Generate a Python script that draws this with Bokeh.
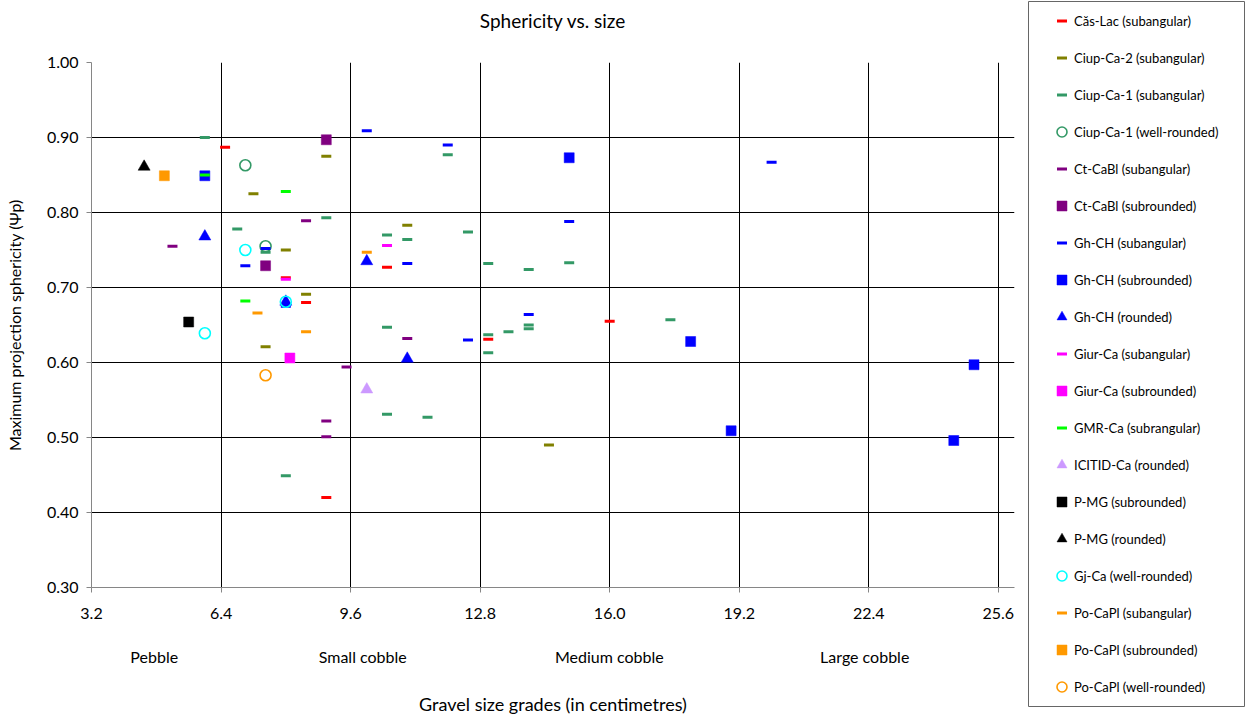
from bokeh.plotting import figure
from bokeh.models import Range1d, FixedTicker, NumeralTickFormatter, LinearAxis, Legend, LegendItem
from bokeh.layouts import row
from bokeh.embed import file_html
from bokeh.resources import INLINE

FONT = "Lato"

# ---------------- data ----------------
chart_title = "Sphericity vs. size"
x_ticks = [3.2, 6.4, 9.6, 12.8, 16.0, 19.2, 22.4, 25.6]
y_ticks = [0.3, 0.4, 0.5, 0.6, 0.7, 0.8, 0.9, 1.0]
grade_positions = [4.75, 9.9, 15.99, 22.3]
grade_labels = ["Pebble", "Small cobble", "Medium cobble", "Large cobble"]

cas_lac_sa_x = [6.5, 8.0, 8.5, 10.5, 13.0, 16.0, 9.0]
cas_lac_sa_y = [0.887, 0.713, 0.680, 0.727, 0.631, 0.655, 0.420]

ciup2_sa_x = [7.2, 9.0, 8.0, 7.5, 8.5, 11.0, 14.5]
ciup2_sa_y = [0.825, 0.875, 0.750, 0.621, 0.691, 0.783, 0.490]

ciup1_sa_x = [6.0, 9.0, 6.8, 7.5, 8.0, 12.0, 10.5, 11.0, 12.5, 13.0, 14.0, 14.0, 14.0,
              10.5, 13.0, 13.0, 13.5, 10.5, 11.5, 15.0, 17.5]
ciup1_sa_y = [0.900, 0.793, 0.778, 0.747, 0.449, 0.877, 0.770, 0.764, 0.774, 0.732, 0.724, 0.645, 0.650,
              0.647, 0.637, 0.613, 0.641, 0.531, 0.527, 0.733, 0.657]

ciup1_wr_x = [7.0, 7.5]
ciup1_wr_y = [0.863, 0.755]

ctcabl_sa_x = [8.5, 5.2, 9.0, 9.0, 11.0, 9.5]
ctcabl_sa_y = [0.789, 0.755, 0.522, 0.501, 0.632, 0.594]

ctcabl_sr_x = [9.0, 7.5]
ctcabl_sr_y = [0.897, 0.729]

ghch_sa_x = [10.0, 12.0, 7.5, 7.0, 11.0, 14.0, 12.5, 15.0, 20.0, 8.0]
ghch_sa_y = [0.909, 0.890, 0.752, 0.729, 0.732, 0.664, 0.630, 0.788, 0.867, 0.675]

ghch_sr_x = [6.0, 15.0, 18.0, 19.0, 25.0, 24.5]
ghch_sr_y = [0.849, 0.873, 0.628, 0.509, 0.597, 0.496]

ghch_r_x = [6.0, 8.0, 10.0, 11.0]
ghch_r_y = [0.768, 0.681, 0.735, 0.605]

giur_sa_x = [8.0, 10.5]
giur_sa_y = [0.711, 0.756]

giur_sr_x = [8.1]
giur_sr_y = [0.606]

gmr_sa_x = [6.0, 8.0, 7.0]
gmr_sa_y = [0.850, 0.828, 0.682]

icitid_r_x = [10.0]
icitid_r_y = [0.564]

pmg_sr_x = [5.6]
pmg_sr_y = [0.654]

pmg_r_x = [4.5]
pmg_r_y = [0.861]

gj_wr_x = [7.0, 8.0, 6.0]
gj_wr_y = [0.750, 0.681, 0.639]

pocapl_sa_x = [7.3, 8.5, 10.0]
pocapl_sa_y = [0.666, 0.641, 0.747]

pocapl_sr_x = [5.0]
pocapl_sr_y = [0.849]

pocapl_wr_x = [7.5]
pocapl_wr_y = [0.583]

series = [
    ("Căs-Lac (subangular)", "dash", "#FF0000", cas_lac_sa_x, cas_lac_sa_y),
    ("Ciup-Ca-2 (subangular)", "dash", "#808000", ciup2_sa_x, ciup2_sa_y),
    ("Ciup-Ca-1 (subangular)", "dash", "#339966", ciup1_sa_x, ciup1_sa_y),
    ("Ciup-Ca-1 (well-rounded)", "circle", "#339966", ciup1_wr_x, ciup1_wr_y),
    ("Ct-CaBl (subangular)", "dash", "#800080", ctcabl_sa_x, ctcabl_sa_y),
    ("Ct-CaBl (subrounded)", "square", "#800080", ctcabl_sr_x, ctcabl_sr_y),
    ("Gh-CH (subangular)", "dash", "#0000FF", ghch_sa_x, ghch_sa_y),
    ("Gh-CH (subrounded)", "square", "#0000FF", ghch_sr_x, ghch_sr_y),
    ("Gh-CH (rounded)", "triangle", "#0000FF", ghch_r_x, ghch_r_y),
    ("Giur-Ca (subangular)", "dash", "#FF00FF", giur_sa_x, giur_sa_y),
    ("Giur-Ca (subrounded)", "square", "#FF00FF", giur_sr_x, giur_sr_y),
    ("GMR-Ca (subrangular)", "dash", "#00FF00", gmr_sa_x, gmr_sa_y),
    ("ICITID-Ca (rounded)", "triangle", "#CC99FF", icitid_r_x, icitid_r_y),
    ("P-MG (subrounded)", "square", "#000000", pmg_sr_x, pmg_sr_y),
    ("P-MG (rounded)", "triangle", "#000000", pmg_r_x, pmg_r_y),
    ("Gj-Ca (well-rounded)", "circle", "#00FFFF", gj_wr_x, gj_wr_y),
    ("Po-CaPl (subangular)", "dash", "#FF9900", pocapl_sa_x, pocapl_sa_y),
    ("Po-CaPl (subrounded)", "square", "#FF9900", pocapl_sr_x, pocapl_sr_y),
    ("Po-CaPl (well-rounded)", "circle", "#FF9900", pocapl_wr_x, pocapl_wr_y),
]


def marker_style(marker, color):
    if marker == "dash":
        return dict(marker="dash", size=10, line_color=color, line_width=3)
    if marker == "square":
        return dict(marker="square", size=10, fill_color=color, line_color=color, line_width=0.5)
    if marker == "triangle":
        return dict(marker="triangle", size=12, fill_color=color, line_color=color, line_width=0.5)
    return dict(marker="circle", size=11, fill_alpha=0, line_color=color, line_width=1.6)


# ---------------- main plot ----------------
p = figure(width=1027, height=719, x_range=Range1d(3.2, 26.0), y_range=Range1d(0.3, 1.0),
           output_backend="svg", toolbar_location=None,
           min_border_left=91, min_border_right=13, min_border_top=62, min_border_bottom=132)
p.frame_align = False
p.outline_line_color = None
p.background_fill_color = "white"
p.border_fill_color = "white"
p.title.text = ""

# default axes (grab them before adding extra axes)
xa = p.below[0]
ya = p.left[0]

xa.ticker = FixedTicker(ticks=x_ticks)
xa.formatter = NumeralTickFormatter(format="0.0")
xa.axis_line_color = "#868686"
xa.major_tick_line_color = "#868686"
xa.major_tick_out = 5
xa.major_tick_in = 0
xa.minor_tick_line_color = None
xa.major_label_standoff = 15
xa.major_label_text_font = FONT
xa.major_label_text_font_size = "16px"
xa.major_label_text_color = "#000000"

ya.ticker = FixedTicker(ticks=y_ticks)
ya.formatter = NumeralTickFormatter(format="0.00")
ya.axis_line_color = "#868686"
ya.major_tick_line_color = "#868686"
ya.major_tick_out = 5
ya.major_tick_in = 0
ya.minor_tick_line_color = None
ya.major_label_standoff = 8
ya.major_label_text_font = FONT
ya.major_label_text_font_size = "16px"
ya.major_label_text_color = "#000000"
ya.axis_label = "Maximum projection sphericity (Ψp)"
ya.axis_label_text_font = FONT
ya.axis_label_text_font_size = "16px"
ya.axis_label_text_font_style = "normal"
ya.axis_label_text_color = "#000000"
ya.axis_label_standoff = 20

title_axis = LinearAxis(
    ticker=FixedTicker(ticks=[]), axis_line_color=None, major_tick_line_color=None,
    minor_tick_line_color=None, major_tick_out=0, major_tick_in=0, major_label_standoff=0,
    axis_label=chart_title, axis_label_text_font=FONT, axis_label_text_font_size="19px",
    axis_label_text_font_style="normal", axis_label_text_color="#000000", axis_label_standoff=31,
)
p.add_layout(title_axis, "above")

grade_axis = LinearAxis(
    ticker=FixedTicker(ticks=grade_positions),
    major_label_overrides={pos: lab for pos, lab in zip(grade_positions, grade_labels)},
    axis_line_color=None, major_tick_line_color=None, minor_tick_line_color=None,
    major_tick_out=0, major_tick_in=0, major_label_standoff=25,
    major_label_text_font=FONT, major_label_text_font_size="16px", major_label_text_color="#000000",
    axis_label="Gravel size grades (in centimetres)", axis_label_text_font=FONT,
    axis_label_text_font_size="18px", axis_label_text_font_style="normal",
    axis_label_text_color="#000000", axis_label_standoff=24,
)
p.add_layout(grade_axis, "below")

p.xgrid.ticker = FixedTicker(ticks=x_ticks[1:])
p.ygrid.ticker = FixedTicker(ticks=y_ticks[1:-1])
p.xgrid.grid_line_color = "#000000"
p.ygrid.grid_line_color = "#000000"
p.xgrid.grid_line_width = 1
p.ygrid.grid_line_width = 1

for name, marker, color, xs, ys in series:
    p.scatter(xs, ys, **marker_style(marker, color))

# ---------------- legend panel ----------------
pl = figure(width=218, height=707, x_range=Range1d(100, 101), y_range=Range1d(100, 101),
            output_backend="svg", toolbar_location=None,
            x_axis_type=None, y_axis_type=None,
            min_border_left=1, min_border_right=1, min_border_top=1, min_border_bottom=1)
pl.frame_align = False
pl.title.text = ""
pl.outline_line_color = "#666666"
pl.outline_line_width = 1
pl.background_fill_color = "white"
pl.border_fill_color = "white"

items = []
for name, marker, color, xs, ys in series:
    r = pl.scatter(xs, ys, **marker_style(marker, color))
    items.append(LegendItem(label=name, renderers=[r]))

legend = Legend(items=items, location=(21, 7), orientation="vertical",
                glyph_width=25, glyph_height=25, label_height=25, spacing=12,
                label_standoff=-7, padding=0, margin=0,
                border_line_alpha=0, background_fill_alpha=0,
                label_text_font=FONT, label_text_font_size="13px", label_text_color="#000000")
pl.add_layout(legend, "center")

layout = row(p, pl)

open("out.html", "w").write(file_html(layout, INLINE))
